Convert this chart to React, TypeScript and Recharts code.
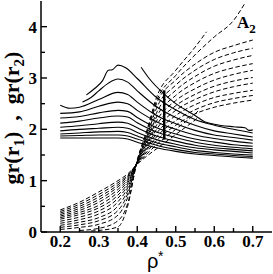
import React from 'react';
import { LineChart, Line, XAxis, YAxis } from 'recharts';

const xTicks = [0.2, 0.25, 0.3, 0.35, 0.4, 0.45, 0.5, 0.55, 0.6, 0.65, 0.7];
const yTicks = [0, 0.5, 1, 1.5, 2, 2.5, 3, 3.5, 4];

// gr(r1) curves (solid)
const s1 = [[0.268, 2.67], [0.29, 2.8], [0.31, 2.95], [0.325, 3.15], [0.335, 3.16], [0.35, 3.25], [0.37, 3.2], [0.4, 2.99], [0.45, 2.62], [0.5, 2.38], [0.55, 2.19], [0.6, 2.08], [0.65, 2.0], [0.7, 1.93]];
const s2 = [[0.258, 2.53], [0.28, 2.62], [0.3, 2.75], [0.325, 2.9], [0.35, 2.98], [0.375, 2.92], [0.4, 2.75], [0.45, 2.44], [0.5, 2.23], [0.55, 2.08], [0.6, 1.97], [0.65, 1.91], [0.7, 1.85]];
const s3 = [[0.2, 2.47], [0.225, 2.41], [0.25, 2.43], [0.3, 2.58], [0.35, 2.72], [0.375, 2.68], [0.4, 2.53], [0.45, 2.27], [0.5, 2.11], [0.55, 1.98], [0.6, 1.89], [0.65, 1.84], [0.7, 1.79]];
const s4 = [[0.2, 2.31], [0.25, 2.34], [0.3, 2.45], [0.35, 2.53], [0.375, 2.5], [0.4, 2.37], [0.45, 2.15], [0.5, 2.0], [0.55, 1.89], [0.6, 1.82], [0.65, 1.77], [0.7, 1.73]];
const s5 = [[0.2, 2.22], [0.25, 2.25], [0.3, 2.32], [0.35, 2.37], [0.375, 2.35], [0.4, 2.23], [0.45, 2.03], [0.5, 1.91], [0.55, 1.81], [0.6, 1.75], [0.65, 1.7], [0.7, 1.67]];
const s6 = [[0.2, 2.12], [0.25, 2.16], [0.3, 2.22], [0.35, 2.26], [0.375, 2.24], [0.4, 2.13], [0.45, 1.95], [0.5, 1.84], [0.55, 1.75], [0.6, 1.69], [0.65, 1.65], [0.7, 1.62]];
const s7 = [[0.2, 2.04], [0.25, 2.07], [0.3, 2.11], [0.35, 2.14], [0.375, 2.12], [0.4, 2.03], [0.45, 1.87], [0.5, 1.77], [0.55, 1.69], [0.6, 1.64], [0.65, 1.61], [0.7, 1.58]];
const s8 = [[0.2, 1.97], [0.25, 2.0], [0.3, 2.02], [0.35, 2.04], [0.375, 2.02], [0.4, 1.94], [0.45, 1.8], [0.5, 1.71], [0.55, 1.64], [0.6, 1.6], [0.65, 1.57], [0.7, 1.54]];
const s9 = [[0.2, 1.91], [0.25, 1.93], [0.3, 1.95], [0.35, 1.96], [0.375, 1.94], [0.4, 1.87], [0.45, 1.74], [0.5, 1.66], [0.55, 1.59], [0.6, 1.55], [0.65, 1.52], [0.7, 1.5]];
const s10 = [[0.2, 1.87], [0.25, 1.88], [0.3, 1.89], [0.35, 1.89], [0.375, 1.87], [0.4, 1.81], [0.45, 1.69], [0.5, 1.61], [0.55, 1.55], [0.6, 1.52], [0.65, 1.49], [0.7, 1.47]];
const s11 = [[0.2, 1.83], [0.25, 1.83], [0.3, 1.83], [0.35, 1.83], [0.375, 1.81], [0.4, 1.75], [0.45, 1.64], [0.5, 1.57], [0.55, 1.52], [0.6, 1.49], [0.65, 1.46], [0.7, 1.44]];
const s12 = [[0.41, 3.21], [0.43, 3.0], [0.468, 2.7], [0.5, 2.5], [0.55, 2.27], [0.575, 2.15], [0.6, 2.1], [0.65, 2.05], [0.68, 2.03], [0.69, 1.98], [0.7, 1.99]];

// gr(r2) curves (dashed)
const d0 = [[0.2, 0.43], [0.25, 0.58], [0.3, 0.78], [0.35, 1.0], [0.375, 1.13], [0.4, 1.32], [0.425, 1.48], [0.45, 1.62], [0.5, 1.9], [0.55, 2.18], [0.56, 2.24]];
const d1 = [[0.2, 0.4], [0.25, 0.54], [0.3, 0.73], [0.35, 0.96], [0.375, 1.1], [0.4, 1.33], [0.425, 1.52], [0.45, 1.7], [0.5, 2.0], [0.55, 2.3], [0.56, 2.37]];
const d2 = [[0.2, 0.37], [0.25, 0.5], [0.3, 0.68], [0.35, 0.92], [0.375, 1.08], [0.4, 1.34], [0.425, 1.56], [0.45, 1.78], [0.5, 2.08], [0.55, 2.3], [0.6, 2.43], [0.65, 2.51], [0.7, 2.57]];
const d3 = [[0.2, 0.34], [0.25, 0.46], [0.3, 0.63], [0.35, 0.88], [0.375, 1.05], [0.4, 1.34], [0.425, 1.6], [0.45, 1.85], [0.5, 2.17], [0.55, 2.38], [0.6, 2.52], [0.65, 2.6], [0.7, 2.66]];
const d4 = [[0.2, 0.31], [0.25, 0.42], [0.3, 0.58], [0.35, 0.83], [0.375, 1.02], [0.4, 1.35], [0.425, 1.63], [0.45, 1.92], [0.5, 2.27], [0.55, 2.48], [0.6, 2.62], [0.65, 2.7], [0.7, 2.76]];
const d5 = [[0.2, 0.28], [0.25, 0.38], [0.3, 0.52], [0.35, 0.78], [0.375, 0.99], [0.4, 1.35], [0.425, 1.66], [0.45, 2.0], [0.5, 2.37], [0.55, 2.58], [0.6, 2.73], [0.65, 2.83], [0.7, 2.9]];
const d6 = [[0.2, 0.25], [0.25, 0.34], [0.3, 0.47], [0.35, 0.72], [0.375, 0.95], [0.4, 1.36], [0.425, 1.7], [0.45, 2.08], [0.5, 2.46], [0.55, 2.68], [0.6, 2.84], [0.65, 2.94], [0.7, 3.01]];
const d7 = [[0.2, 0.21], [0.25, 0.29], [0.3, 0.41], [0.35, 0.66], [0.375, 0.91], [0.4, 1.36], [0.425, 1.74], [0.45, 2.16], [0.5, 2.56], [0.55, 2.79], [0.6, 2.96], [0.65, 3.07], [0.7, 3.15]];
const d8 = [[0.2, 0.17], [0.25, 0.24], [0.3, 0.35], [0.35, 0.59], [0.375, 0.86], [0.4, 1.37], [0.425, 1.78], [0.45, 2.24], [0.5, 2.66], [0.55, 2.91], [0.6, 3.09], [0.65, 3.2], [0.7, 3.28]];
const d9 = [[0.2, 0.13], [0.25, 0.19], [0.3, 0.28], [0.35, 0.51], [0.375, 0.8], [0.4, 1.37], [0.425, 1.82], [0.45, 2.32], [0.5, 2.76], [0.55, 3.03], [0.6, 3.23], [0.65, 3.35], [0.7, 3.44]];
const d10 = [[0.2, 0.09], [0.25, 0.14], [0.3, 0.22], [0.35, 0.42], [0.375, 0.74], [0.4, 1.38], [0.425, 1.86], [0.45, 2.41], [0.5, 2.86], [0.55, 3.15], [0.6, 3.36], [0.65, 3.49], [0.7, 3.58]];
const d11 = [[0.2, 0.05], [0.25, 0.09], [0.3, 0.15], [0.35, 0.33], [0.375, 0.67], [0.4, 1.38], [0.425, 1.9], [0.45, 2.5], [0.5, 2.96], [0.55, 3.27], [0.6, 3.5], [0.65, 3.63], [0.7, 3.74]];
const d12 = [[0.25, 0.03], [0.3, 0.07], [0.35, 0.22], [0.375, 0.55], [0.4, 1.39], [0.425, 1.98], [0.45, 2.62], [0.5, 3.15], [0.55, 3.6], [0.58, 3.9]];
const d13 = [[0.28, 0.02], [0.3, 0.03], [0.35, 0.1], [0.375, 0.5], [0.4, 1.4], [0.425, 1.95], [0.45, 2.55], [0.5, 3.05], [0.55, 3.45], [0.6, 3.8], [0.65, 4.12], [0.68, 4.46]];

// vertical marker
const bar = [[0.47, 1.8], [0.47, 2.76]];

const solid = [s1, s2, s3, s4, s5, s6, s7, s8, s9, s10, s11, s12];
const dashed = [d0, d1, d2, d3, d4, d5, d6, d7, d8, d9, d10, d11, d12, d13];

const pts = (a: number[][]) => a.map(([x, y]) => ({ x, y }));
const isMajor = (v: number, step: number) => Math.abs(v / step - Math.round(v / step)) < 1e-6;

const serif = '"Liberation Serif", "Times New Roman", serif';
const sans = '"Liberation Sans", Arial, sans-serif';
const sp = '\u00a0\u00a0';

const BottomTick = (props: any) => {
  const { x, y, payload } = props;
  const major = isMajor(payload.value, 0.1);
  return (
    <g>
      <line x1={x} x2={x} y1={y} y2={y - (major ? 6 : 4)} stroke="#000" strokeWidth={1.4} />
      {major && (
        <text x={x} y={y + 15} textAnchor="middle" fontFamily={serif} fontWeight="bold" fontSize={17}>
          {payload.value.toFixed(1)}
        </text>
      )}
    </g>
  );
};

const TopTick = (props: any) => {
  const { x, y } = props;
  return <line x1={x} x2={x} y1={y} y2={y + 6} stroke="#000" strokeWidth={1.4} />;
};

const LeftTick = (props: any) => {
  const { x, y, payload } = props;
  const major = isMajor(payload.value, 1);
  return (
    <g>
      <line x1={x} x2={x + (major ? 6 : 4)} y1={y} y2={y} stroke="#000" strokeWidth={1.4} />
      {major && (
        <text x={x - 4} y={y + 6} textAnchor="end" fontFamily={serif} fontWeight="bold" fontSize={17}>
          {payload.value}
        </text>
      )}
    </g>
  );
};

const RightTick = (props: any) => {
  const { x, y } = props;
  return <line x1={x} x2={x - 6} y1={y} y2={y} stroke="#000" strokeWidth={1.4} />;
};

export default function App() {
  return (
    <div style={{ position: 'absolute', left: 0, top: 0, width: 273, height: 274, background: '#fff' }}>
      <LineChart width={273} height={274} margin={{ top: 1, right: 1, bottom: 0, left: 0 }}>
        <XAxis xAxisId="b" type="number" dataKey="x" domain={[0.15, 0.75]} allowDataOverflow ticks={xTicks} interval={0}
          height={42} tickSize={0} tickMargin={0} tickLine={false} tick={<BottomTick />}
          axisLine={{ stroke: '#000', strokeWidth: 1.5 }} />
        <XAxis xAxisId="t" orientation="top" type="number" dataKey="x" domain={[0.15, 0.75]} allowDataOverflow ticks={xTicks} interval={0}
          height={0} tickSize={0} tickMargin={0} tickLine={false} tick={<TopTick />}
          axisLine={{ stroke: '#000', strokeWidth: 1.5 }} />
        <YAxis yAxisId="l" type="number" dataKey="y" domain={[0, 4.5]} allowDataOverflow ticks={yTicks} interval={0}
          width={41} tickSize={0} tickMargin={0} tickLine={false} tick={<LeftTick />}
          axisLine={{ stroke: '#000', strokeWidth: 1.5 }} />
        <YAxis yAxisId="r" orientation="right" type="number" dataKey="y" domain={[0, 4.5]} allowDataOverflow ticks={yTicks} interval={0}
          width={0} tickSize={0} tickMargin={0} tickLine={false} tick={<RightTick />}
          axisLine={{ stroke: '#000', strokeWidth: 1.5 }} />
        {solid.map((s, i) => (
          <Line key={'s' + i} xAxisId="b" yAxisId="l" data={pts(s)} dataKey="y" type="monotone"
            stroke="#000" strokeWidth={1.1} dot={false} isAnimationActive={false} />
        ))}
        {dashed.map((s, i) => (
          <Line key={'d' + i} xAxisId="b" yAxisId="l" data={pts(s)} dataKey="y" type="monotone"
            stroke="#000" strokeWidth={1} strokeDasharray="4.5 2.5" dot={false} isAnimationActive={false} />
        ))}
        <Line xAxisId="b" yAxisId="l" data={pts(bar)} dataKey="y" type="linear"
          stroke="#000" strokeWidth={2.5} dot={false} isAnimationActive={false} />
      </LineChart>
      <svg width={273} height={274} style={{ position: 'absolute', left: 0, top: 0, pointerEvents: 'none' }}>
        <text transform="rotate(-90 19 118)" x={19} y={118} textAnchor="middle" fontFamily={serif} fontWeight="bold" fontSize={22}>
          gr(r<tspan fontSize={15} dy={5}>1</tspan><tspan dy={-5}>){sp},{sp}gr(r</tspan><tspan fontSize={15} dy={5}>2</tspan><tspan dy={-5}>)</tspan>
        </text>
        <text x={237} y={28} fontFamily={serif} fontWeight="bold" fontSize={17}>
          A<tspan fontSize={13} dy={5}>2</tspan>
        </text>
        <text x={147} y={268} fontFamily={sans} fontSize={20}>ρ</text>
        <text x={158} y={261} fontFamily={sans} fontSize={14}>*</text>
      </svg>
    </div>
  );
}
